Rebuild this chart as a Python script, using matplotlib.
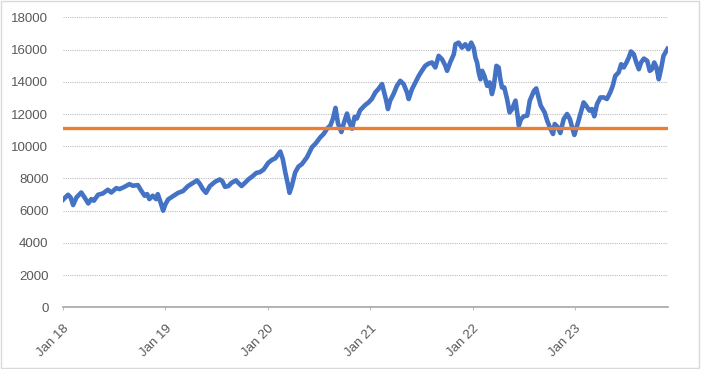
import matplotlib.pyplot as plt
import matplotlib.dates as mdates
import pandas as pd
from matplotlib.patches import Rectangle

# 数据
dates = [
    "2018-01-01", "2018-01-19", "2018-01-28", "2018-02-06", "2018-02-18", "2018-03-07", "2018-03-19",
    "2018-04-01", "2018-04-12", "2018-04-21", "2018-05-06", "2018-05-23", "2018-06-10", "2018-06-22",
    "2018-07-10", "2018-07-22", "2018-08-08", "2018-08-26", "2018-09-07", "2018-09-25", "2018-10-07",
    "2018-10-19", "2018-10-28", "2018-11-05", "2018-11-17", "2018-11-29", "2018-12-05", "2018-12-15",
    "2018-12-24",
    "2019-01-01", "2019-01-11", "2019-01-29", "2019-02-16", "2019-03-05", "2019-03-23", "2019-04-10",
    "2019-04-24", "2019-05-04", "2019-05-14", "2019-05-26", "2019-06-09", "2019-06-27", "2019-07-14",
    "2019-07-23", "2019-08-02", "2019-08-14", "2019-08-25", "2019-09-10", "2019-09-18", "2019-09-30",
    "2019-10-12", "2019-10-24", "2019-11-08", "2019-11-22", "2019-12-04", "2019-12-18",
    "2020-01-03", "2020-01-16", "2020-01-28", "2020-02-15", "2020-02-24", "2020-03-04", "2020-03-13",
    "2020-03-19", "2020-03-27", "2020-04-08", "2020-04-20", "2020-05-02", "2020-05-20", "2020-06-07",
    "2020-06-19", "2020-07-07", "2020-07-19", "2020-07-31", "2020-08-12", "2020-08-21", "2020-08-30",
    "2020-09-08", "2020-09-20", "2020-09-28", "2020-10-10", "2020-10-18", "2020-10-28", "2020-11-06",
    "2020-11-14", "2020-11-26", "2020-12-14", "2020-12-26",
    "2021-01-07", "2021-01-19", "2021-01-30", "2021-02-12", "2021-02-21", "2021-02-27", "2021-03-05",
    "2021-03-13", "2021-03-25", "2021-04-06", "2021-04-18", "2021-04-30", "2021-05-12", "2021-05-18",
    "2021-05-30", "2021-06-11", "2021-06-23", "2021-07-04", "2021-07-16", "2021-07-28", "2021-08-09",
    "2021-08-21", "2021-09-02", "2021-09-14", "2021-09-26", "2021-10-02", "2021-10-13", "2021-10-26",
    "2021-11-01", "2021-11-12", "2021-11-24", "2021-12-06", "2021-12-17", "2021-12-27",
    "2022-01-05", "2022-01-11", "2022-01-17", "2022-01-23", "2022-01-29", "2022-02-04", "2022-02-12",
    "2022-02-22", "2022-03-03", "2022-03-11", "2022-03-17", "2022-03-27", "2022-04-04", "2022-04-10",
    "2022-04-16", "2022-04-24", "2022-05-04", "2022-05-13", "2022-05-22", "2022-06-03", "2022-06-09",
    "2022-06-15", "2022-06-23", "2022-07-03", "2022-07-15", "2022-07-24", "2022-08-08", "2022-08-16",
    "2022-08-23", "2022-09-01", "2022-09-15", "2022-09-24", "2022-10-06", "2022-10-15", "2022-10-21",
    "2022-11-01", "2022-11-10", "2022-11-22", "2022-12-04", "2022-12-14", "2022-12-22", "2022-12-30",
    "2023-01-14", "2023-01-22", "2023-02-01", "2023-02-10", "2023-02-22", "2023-03-03", "2023-03-11",
    "2023-03-21", "2023-04-02", "2023-04-14", "2023-04-25", "2023-05-07", "2023-05-16", "2023-05-25",
    "2023-06-06", "2023-06-15", "2023-06-24", "2023-07-04", "2023-07-12", "2023-07-20", "2023-07-30",
    "2023-08-08", "2023-08-17", "2023-08-25", "2023-09-04", "2023-09-16", "2023-09-25", "2023-10-03",
    "2023-10-11", "2023-10-19", "2023-10-27", "2023-11-04", "2023-11-13", "2023-11-27",
]

index_level = [
    6680, 6990, 6825, 6350, 6825, 7130, 6820,
    6450, 6720, 6620, 6990, 7070, 7300, 7130,
    7400, 7340, 7480, 7650, 7550, 7590, 7240,
    6930, 7030, 6720, 6930, 6720, 7030, 6520,
    6000,
    6390, 6700, 6910, 7110, 7220, 7530, 7730,
    7880, 7670, 7360, 7110, 7530, 7790, 7940,
    7840, 7480, 7530, 7730, 7880, 7730, 7530,
    7730, 7940, 8140, 8350, 8390, 8560,
    8970, 9150, 9250, 9670, 9200, 8370, 7640,
    7110, 7530, 8370, 8740, 8890, 9310, 9940,
    10150, 10560, 10770, 11090, 11300, 11720, 12380,
    11400, 10880, 11400, 12030, 11510, 11090, 11820,
    11720, 12240, 12560, 12720,
    12950, 13340, 13550, 13860, 13240, 12830, 12310,
    12830, 13240, 13750, 14060, 13860, 13340, 12930,
    13550, 13960, 14370, 14680, 14990, 15130, 15200,
    14890, 15610, 15400, 14990, 14680, 15200, 15710,
    16330, 16430, 16120, 16330, 16020, 16430,
    16100, 15500, 15200, 14580, 14160, 14680, 14370,
    13750, 13960, 13240, 13650, 14990, 14890, 14160,
    13650, 13650, 12930, 12100, 12310, 12830, 12100,
    11280, 11690, 11860, 11900, 12830, 13440, 13590,
    13130, 12520, 12100, 11590, 11070, 10760, 11380,
    11180, 10820, 11690, 12000, 11690, 11180, 10700,
    11590, 12100, 12720, 12520, 12210, 12310, 11860,
    12620, 13030, 13030, 12930, 13340, 13750, 14370,
    14580, 15090, 14890, 15200, 15500, 15880, 15710,
    15200, 14780, 15200, 15440, 15300, 14680, 14780,
    15200, 14890, 14160, 14780, 15610, 16040,
]

threshold = 11150

plt.rcParams['font.family'] = ['Liberation Sans', 'DejaVu Sans']

x = pd.to_datetime(dates)

fig = plt.figure(figsize=(7.01, 3.69), dpi=100)
ax = fig.add_axes([0.0899, 0.167, 0.863, 0.786])

ax.plot(x, index_level, color='#4472C4', linewidth=3.3, solid_joinstyle='round', zorder=3)
ax.axhline(threshold, color='#ED7D31', linewidth=2.4, zorder=4)

ax.set_ylim(0, 18000)
ax.set_yticks(range(0, 18001, 2000))
ax.set_xlim(pd.Timestamp("2018-01-01"), pd.Timestamp("2023-11-29"))
ax.xaxis.set_major_locator(mdates.YearLocator())
ax.xaxis.set_major_formatter(mdates.DateFormatter('%b %y'))

ax.grid(axis='y', color='#BFBFBF', linestyle=(0, (1, 1)), linewidth=0.8)
for s in ['top', 'right', 'left']:
    ax.spines[s].set_visible(False)
ax.spines['bottom'].set_color('#A6A6A6')
ax.spines['bottom'].set_linewidth(1.2)

ax.tick_params(axis='y', length=0, labelsize=9.5, labelcolor='#595959', pad=10.5)
ax.tick_params(axis='x', length=2, color='#BFBFBF', labelsize=9.5, labelcolor='#595959', pad=9)
for lab in ax.get_xticklabels():
    lab.set_rotation(45)
    lab.set_ha('right')
    lab.set_rotation_mode('anchor')

# 图表外框
fig.patches.append(Rectangle((0.002, 0.004), 0.995, 0.993, transform=fig.transFigure,
                             fill=False, edgecolor='#D9D9D9', linewidth=1))

fig.savefig("out.png", dpi=100)
